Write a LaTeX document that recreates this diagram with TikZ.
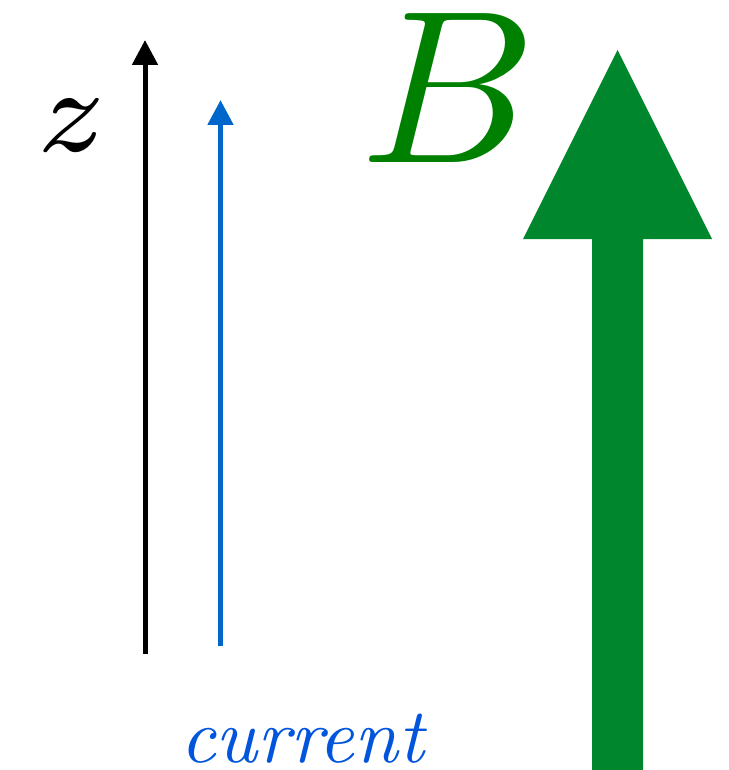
\documentclass[tikz,border=0pt]{standalone}
\usetikzlibrary{arrows.meta}
\definecolor{bgreen}{RGB}{0,128,0}
\definecolor{agreen}{RGB}{0,135,45}
\definecolor{ablue}{RGB}{0,102,204}
\definecolor{tblue}{RGB}{0,85,220}
\tikzset{
  axisarrow/.style={line width=5pt,-{Triangle[width=25pt,length=25pt]}},
  lbl/.style={inner sep=0pt,outer sep=0pt}
}
\begin{document}
\begin{tikzpicture}[x=1pt,y=-1pt]
\useasboundingbox (0,0) rectangle (728,770);
% black z axis
\coordinate (zb) at (145,654);
\coordinate (zt) at (145,40);
\draw[axisarrow,black] (zb) -- (zt);
% blue current
\coordinate (cb) at (220.5,646);
\coordinate (ct) at (220.5,100);
\draw[axisarrow,ablue] (cb) -- (ct);
% big green arrow
\fill[agreen] (592,770) -- (592,239) -- (523,239) -- (617.5,50) -- (712,239) -- (643,239) -- (643,770) -- cycle;
% labels
\node[lbl,scale=17.2,font=\scriptsize] (z) at (71.5,126) {$z$};
\node[lbl,scale=21.8,text=bgreen] (B) at (449,88) {$B$};
\node[lbl,scale=7.75,text=tblue,anchor=base] (cur) at (303.5,762) {\textit{current}};
\end{tikzpicture}
\end{document}
